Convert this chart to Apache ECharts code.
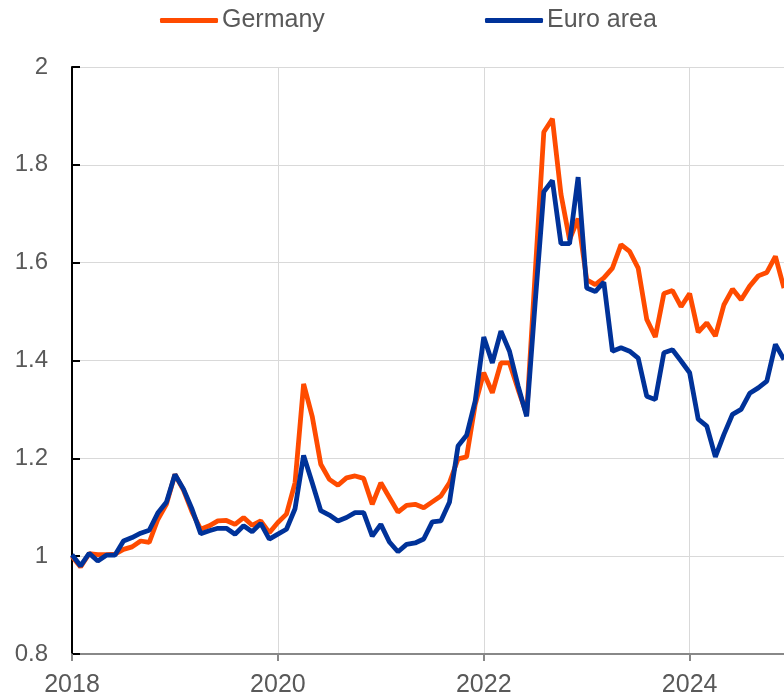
<!DOCTYPE html>
<html>
<head>
<meta charset="utf-8">
<script src="https://cdn.jsdelivr.net/npm/echarts@6/dist/echarts.min.js"></script>
<style>
  html, body { margin: 0; padding: 0; background: #fff; }
  #chart { width: 784px; height: 698px; }
</style>
</head>
<body>
<div id="chart"></div>
<script>
// monthly index, Jan 2018 = 1
const startYear = 2018;
const seriesNames = ['Germany', 'Euro area'];

const germany = [
  1.0, 0.978, 1.005, 1.003, 1.003, 1.004, 1.014, 1.019, 1.031, 1.028, 1.075, 1.106,
  1.167, 1.135, 1.09, 1.055, 1.062, 1.072, 1.073, 1.065, 1.079, 1.063, 1.072, 1.048,
  1.069, 1.086, 1.15, 1.352, 1.286, 1.188, 1.157, 1.145, 1.16, 1.164, 1.159, 1.106,
  1.15, 1.12, 1.09, 1.104, 1.106, 1.099, 1.111, 1.123, 1.15, 1.199, 1.203, 1.31,
  1.375, 1.334, 1.395, 1.395, 1.341, 1.29, 1.58, 1.867, 1.894, 1.74, 1.647, 1.69,
  1.565, 1.555, 1.569, 1.589, 1.637, 1.623, 1.589, 1.484, 1.448, 1.537, 1.543, 1.51,
  1.537, 1.458, 1.477, 1.45, 1.514, 1.546, 1.524, 1.552, 1.573, 1.58, 1.613, 1.548
];

const euroArea = [
  1.003, 0.98, 1.006, 0.99, 1.002, 1.002, 1.031, 1.038, 1.047, 1.053, 1.088, 1.11,
  1.167, 1.137, 1.096, 1.046, 1.052, 1.057, 1.057, 1.045, 1.062, 1.05, 1.067, 1.035,
  1.045, 1.055, 1.097, 1.206, 1.15, 1.093, 1.084, 1.072, 1.079, 1.089, 1.089, 1.041,
  1.065, 1.029, 1.009, 1.024, 1.027, 1.035, 1.07, 1.072, 1.11, 1.225, 1.247, 1.317,
  1.448, 1.395, 1.46, 1.419, 1.348, 1.286, 1.52, 1.745, 1.768, 1.639, 1.639, 1.775,
  1.548, 1.541, 1.56, 1.419, 1.426, 1.419, 1.405, 1.327, 1.32, 1.416, 1.422, 1.399,
  1.375, 1.28, 1.266, 1.203, 1.249, 1.29, 1.3, 1.333, 1.344, 1.358, 1.433, 1.402
];

const colors = ['#ff4b00', '#003299'];
const font = "'Liberation Sans', Arial, sans-serif";
const textColor = '#595959';

const toPairs = (arr) => arr.map((v, i) => [i, v]);

const legendStyle = {
  top: 8,
  padding: 0,
  icon: 'roundRect',
  itemWidth: 58,
  itemHeight: 5,
  textStyle: { fontFamily: font, fontSize: 25, color: textColor, padding: [0, 0, 0, -1] }
};

const myChart = echarts.init(document.getElementById('chart'));
myChart.setOption({
  animation: false,
  color: colors,
  legend: [
    Object.assign({ data: [seriesNames[0]], left: 160 }, legendStyle),
    Object.assign({ data: [seriesNames[1]], left: 485 }, legendStyle)
  ],
  grid: { left: 72, right: 0, top: 67, bottom: 43 },
  xAxis: {
    type: 'value',
    min: 0,
    max: 83,
    interval: 24,
    axisLine: { show: true, onZero: false, lineStyle: { color: '#888', width: 2 } },
    axisTick: { show: true, length: 7, lineStyle: { color: '#888', width: 2 } },
    splitLine: { show: true, lineStyle: { color: '#d9d9d9', width: 1 } },
    axisLabel: {
      margin: 19,
      fontFamily: font,
      fontSize: 25,
      color: textColor,
      showMaxLabel: false,
      formatter: (v) => String(startYear + v / 12)
    }
  },
  yAxis: {
    type: 'value',
    min: 0.8,
    max: 2,
    interval: 0.2,
    axisLine: { show: true, lineStyle: { color: '#000', width: 2 } },
    axisTick: { show: true, inside: true, length: 8, lineStyle: { color: '#000', width: 2 } },
    splitLine: { show: true, lineStyle: { color: '#d9d9d9', width: 1 } },
    axisLabel: { margin: 24, fontFamily: font, fontSize: 24, color: textColor }
  },
  series: [
    {
      name: seriesNames[0],
      type: 'line',
      data: toPairs(germany),
      showSymbol: false,
      lineStyle: { width: 4.8, color: colors[0] }
    },
    {
      name: seriesNames[1],
      type: 'line',
      data: toPairs(euroArea),
      showSymbol: false,
      lineStyle: { width: 4.8, color: colors[1] }
    }
  ]
});
</script>
</body>
</html>
